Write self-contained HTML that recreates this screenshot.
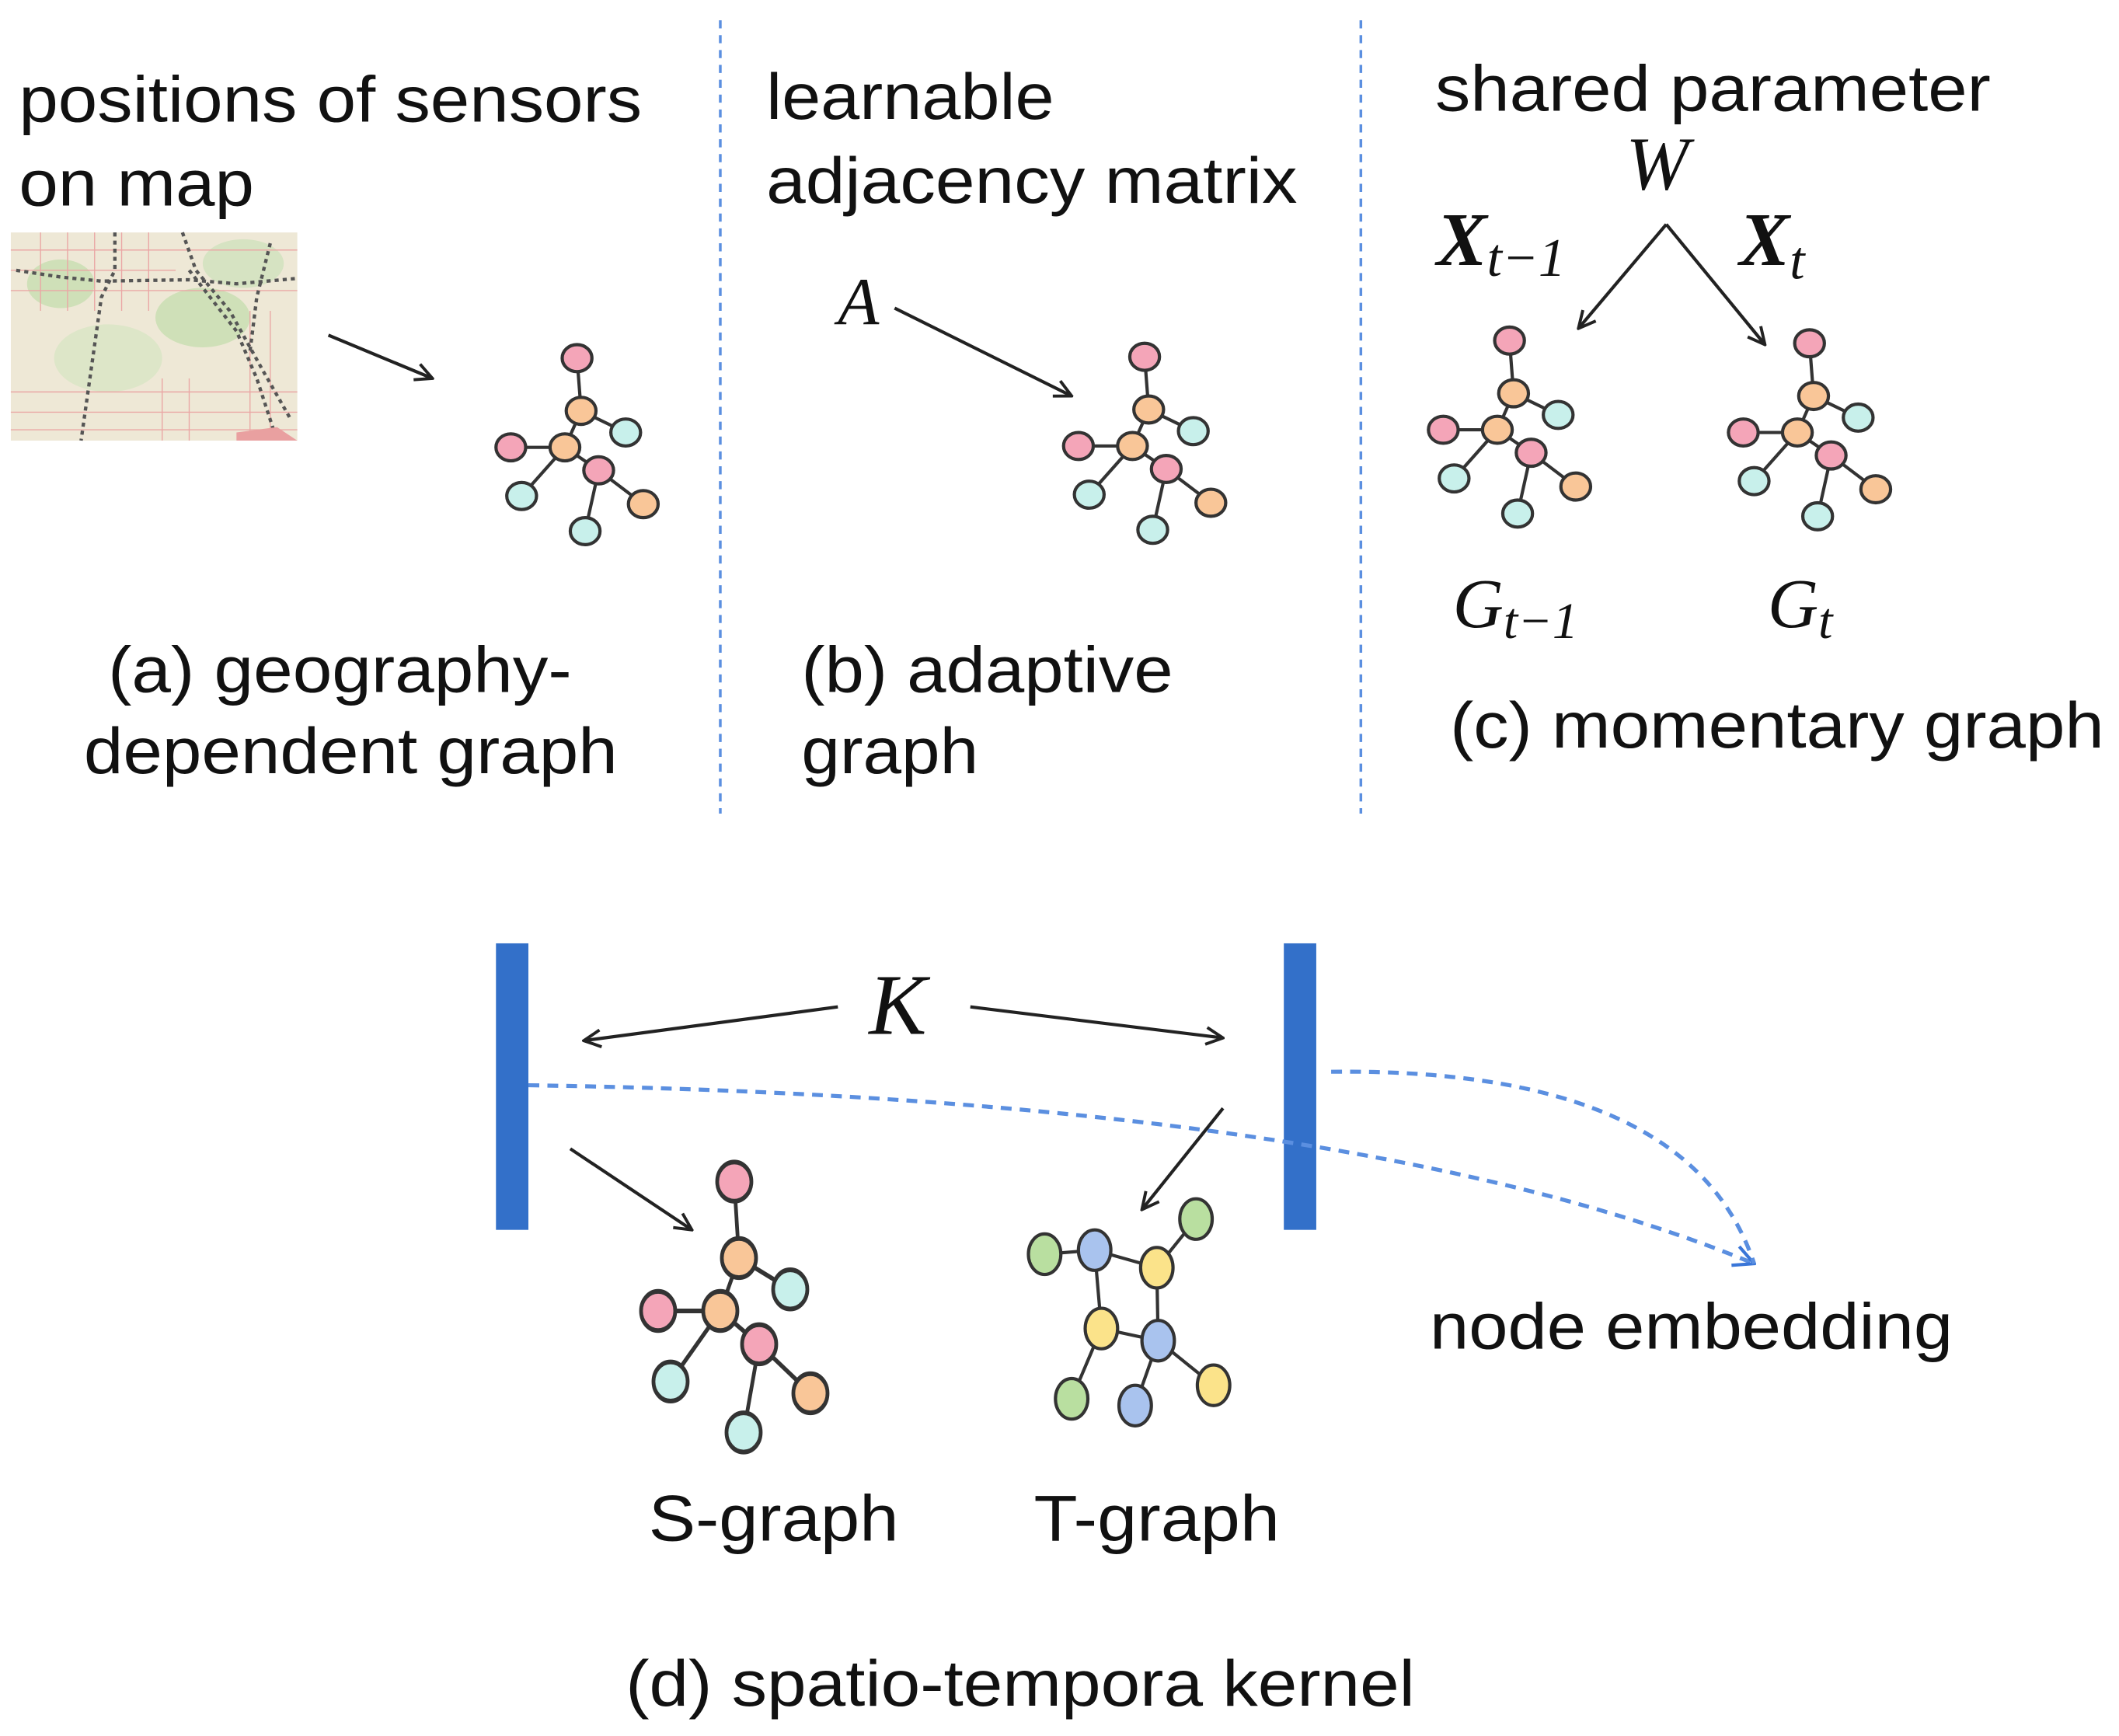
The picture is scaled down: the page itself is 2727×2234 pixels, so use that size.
<!DOCTYPE html>
<html><head><meta charset="utf-8"><style>
html,body{margin:0;padding:0;background:#fff;}
svg{display:block;}
text{font-family:"Liberation Sans",sans-serif;fill:#111;}
.m{font-family:"Liberation Serif",serif;font-style:italic;}
</style></head><body>
<svg width="2727" height="2234" viewBox="0 0 1568 1284.5" preserveAspectRatio="none" xmlns="http://www.w3.org/2000/svg">
<defs>
<marker id="ah" viewBox="0 0 12 12" refX="11" refY="6" markerWidth="15" markerHeight="15" markerUnits="userSpaceOnUse" orient="auto">
<path d="M1,1 L11,6 L1,11" fill="none" stroke="#222" stroke-width="1.8"/></marker>
<marker id="bh" viewBox="0 0 12 12" refX="11" refY="6" markerWidth="18" markerHeight="18" markerUnits="userSpaceOnUse" orient="auto">
<path d="M1,1 L11,6 L1,11" fill="none" stroke="#3a76d8" stroke-width="1.6"/></marker>
<g id="g">
<g stroke="#333" stroke-width="2.4">
<line x1="9" y1="-66" x2="12" y2="-27"/><line x1="12" y1="-27" x2="45" y2="-11"/><line x1="12" y1="-27" x2="0" y2="0"/>
<line x1="-40" y1="0" x2="0" y2="0"/><line x1="0" y1="0" x2="25" y2="17"/><line x1="0" y1="0" x2="-32" y2="36"/>
<line x1="25" y1="17" x2="58" y2="42"/><line x1="25" y1="17" x2="15" y2="62"/></g>
<g stroke="#333" stroke-width="2.4">
<ellipse cx="9" cy="-66" rx="11" ry="10" fill="#f4a5b8"/>
<ellipse cx="12" cy="-27" rx="11" ry="10" fill="#f9c698"/>
<ellipse cx="45" cy="-11" rx="11" ry="10" fill="#c8f0eb"/>
<ellipse cx="-40" cy="0" rx="11" ry="10" fill="#f4a5b8"/>
<ellipse cx="0" cy="0" rx="11" ry="10" fill="#f9c698"/>
<ellipse cx="25" cy="17" rx="11" ry="10" fill="#f4a5b8"/>
<ellipse cx="-32" cy="36" rx="11" ry="10" fill="#c8f0eb"/>
<ellipse cx="58" cy="42" rx="11" ry="10" fill="#f9c698"/>
<ellipse cx="15" cy="62" rx="11" ry="10" fill="#c8f0eb"/>
</g></g>
</defs>

<line x1="533" y1="15" x2="533" y2="602" stroke="#5b8fe0" stroke-width="2" stroke-dasharray="6,5"/>
<line x1="1007" y1="15" x2="1007" y2="602" stroke="#5b8fe0" stroke-width="2" stroke-dasharray="6,5"/>

<!-- (a) -->
<text x="14" y="90" font-size="48" textLength="461" lengthAdjust="spacingAndGlyphs">positions of sensors</text>
<text x="14" y="152" font-size="48" textLength="174" lengthAdjust="spacingAndGlyphs">on map</text>
<g>
<rect x="8" y="172" width="212" height="154" fill="#eee8d6"/>
<ellipse cx="150" cy="235" rx="35" ry="22" fill="#cfe0b8"/>
<ellipse cx="45" cy="210" rx="25" ry="18" fill="#cfe0b8"/>
<ellipse cx="80" cy="265" rx="40" ry="25" fill="#dde6c8"/>
<ellipse cx="180" cy="195" rx="30" ry="18" fill="#d6e3c2"/>
<g stroke="#eaa7a5" stroke-width="0.8">
<line x1="8" y1="185" x2="220" y2="185"/><line x1="8" y1="200" x2="130" y2="200"/><line x1="8" y1="215" x2="220" y2="215"/>
<line x1="8" y1="290" x2="220" y2="290"/><line x1="8" y1="305" x2="220" y2="305"/><line x1="8" y1="318" x2="220" y2="318"/>
<line x1="30" y1="172" x2="30" y2="230"/><line x1="50" y1="172" x2="50" y2="230"/><line x1="70" y1="172" x2="70" y2="230"/>
<line x1="90" y1="172" x2="90" y2="230"/><line x1="110" y1="172" x2="110" y2="230"/><line x1="185" y1="230" x2="185" y2="326"/>
<line x1="200" y1="230" x2="200" y2="326"/><line x1="120" y1="280" x2="120" y2="326"/><line x1="140" y1="280" x2="140" y2="326"/>
</g>
<g fill="none" stroke="#555" stroke-width="2.5" stroke-dasharray="3,3">
<path d="M12,200 L45,205 L75,208 L140,207 L175,210 L220,206"/>
<path d="M85,172 L85,200 L75,220 L60,326"/>
<path d="M135,172 L145,200 L170,230 L195,275 L215,310"/>
<path d="M140,200 L175,245 L190,280 L205,326"/>
<path d="M200,180 L190,220 L185,260"/>
</g>
<path d="M175,320 L205,316 L220,326 L175,326Z" fill="#e9a0a0"/>
</g>
<line x1="243" y1="248" x2="320" y2="280" stroke="#222" stroke-width="2.4" marker-end="url(#ah)"/>
<use href="#g" transform="translate(418,331)"/>
<text x="80" y="512" font-size="48" textLength="343" lengthAdjust="spacingAndGlyphs">(a) geography-</text>
<text x="62" y="572" font-size="48" textLength="395" lengthAdjust="spacingAndGlyphs">dependent graph</text>

<!-- (b) -->
<text x="567" y="88" font-size="48" textLength="213" lengthAdjust="spacingAndGlyphs">learnable</text>
<text x="567" y="150" font-size="48" textLength="393" lengthAdjust="spacingAndGlyphs">adjacency matrix</text>
<text x="620" y="240" font-size="50" class="m">A</text>
<line x1="662" y1="228" x2="793" y2="293" stroke="#222" stroke-width="2.4" marker-end="url(#ah)"/>
<use href="#g" transform="translate(838,330)"/>
<text x="593" y="512" font-size="48" textLength="275" lengthAdjust="spacingAndGlyphs">(b) adaptive</text>
<text x="593" y="572" font-size="48" textLength="131" lengthAdjust="spacingAndGlyphs">graph</text>

<!-- (c) -->
<text x="1062" y="82" font-size="48" textLength="411" lengthAdjust="spacingAndGlyphs">shared parameter</text>
<text x="1203" y="140" font-size="56" class="m">W</text>
<text x="1063" y="196" font-size="56" class="m" font-weight="bold">X<tspan font-size="40" font-weight="normal" dy="8">t−1</tspan></text>
<text x="1287" y="196" font-size="56" class="m" font-weight="bold">X<tspan font-size="40" font-weight="normal" dy="10">t</tspan></text>
<line x1="1233" y1="166" x2="1168" y2="243" stroke="#222" stroke-width="2.4" marker-end="url(#ah)"/>
<line x1="1233" y1="166" x2="1306" y2="255" stroke="#222" stroke-width="2.4" marker-end="url(#ah)"/>
<use href="#g" transform="translate(1108,318)"/>
<use href="#g" transform="translate(1330,320)"/>
<text x="1075" y="464" font-size="52" class="m">G<tspan font-size="38" dy="8">t−1</tspan></text>
<text x="1308" y="464" font-size="52" class="m">G<tspan font-size="38" dy="8">t</tspan></text>
<text x="1073" y="553" font-size="48" textLength="484" lengthAdjust="spacingAndGlyphs">(c) momentary graph</text>

<!-- (d) -->
<rect x="367" y="698" width="24" height="212" fill="#3370c9"/>
<rect x="950" y="698" width="24" height="212" fill="#3370c9"/>
<text x="643" y="765" font-size="64" class="m">K</text>
<line x1="620" y1="745" x2="432" y2="770" stroke="#222" stroke-width="2.4" marker-end="url(#ah)"/>
<line x1="718" y1="745" x2="905" y2="768" stroke="#222" stroke-width="2.4" marker-end="url(#ah)"/>
<path d="M391,803 Q1000,812 1298,935" fill="none" stroke="#5b8fe0" stroke-width="3" stroke-dasharray="8,6" marker-end="url(#bh)"/>
<path d="M985,793 Q1250,790 1298,935" fill="none" stroke="#5b8fe0" stroke-width="3" stroke-dasharray="8,6"/>
<line x1="422" y1="850" x2="512" y2="910" stroke="#222" stroke-width="2.4" marker-end="url(#ah)"/>
<line x1="905" y1="820" x2="845" y2="895" stroke="#222" stroke-width="2.4" marker-end="url(#ah)"/>
<use href="#g" transform="translate(533,970) scale(1.15,1.45)"/>
<g stroke="#333" stroke-width="2.4">
<line x1="773" y1="928" x2="810" y2="925"/><line x1="810" y1="925" x2="856" y2="938"/><line x1="856" y1="938" x2="885" y2="902"/>
<line x1="810" y1="925" x2="815" y2="983"/><line x1="856" y1="938" x2="857" y2="992"/><line x1="815" y1="983" x2="857" y2="992"/>
<line x1="815" y1="983" x2="793" y2="1035"/><line x1="857" y1="992" x2="840" y2="1040"/><line x1="857" y1="992" x2="898" y2="1025"/>
<ellipse cx="773" cy="928" rx="12" ry="15" fill="#b9dfa0"/>
<ellipse cx="810" cy="925" rx="12" ry="15" fill="#a9c3ee"/>
<ellipse cx="856" cy="938" rx="12" ry="15" fill="#fbe38a"/>
<ellipse cx="885" cy="902" rx="12" ry="15" fill="#b9dfa0"/>
<ellipse cx="815" cy="983" rx="12" ry="15" fill="#fbe38a"/>
<ellipse cx="857" cy="992" rx="12" ry="15" fill="#a9c3ee"/>
<ellipse cx="793" cy="1035" rx="12" ry="15" fill="#b9dfa0"/>
<ellipse cx="840" cy="1040" rx="12" ry="15" fill="#a9c3ee"/>
<ellipse cx="898" cy="1025" rx="12" ry="15" fill="#fbe38a"/>
</g>
<text x="1058" y="998" font-size="48" textLength="387" lengthAdjust="spacingAndGlyphs">node embedding</text>
<text x="480" y="1140" font-size="48" textLength="185" lengthAdjust="spacingAndGlyphs">S-graph</text>
<text x="765" y="1140" font-size="48" textLength="182" lengthAdjust="spacingAndGlyphs">T-graph</text>
<text x="463" y="1262" font-size="48" textLength="584" lengthAdjust="spacingAndGlyphs">(d) spatio-tempora kernel</text>
</svg>
</body></html>
